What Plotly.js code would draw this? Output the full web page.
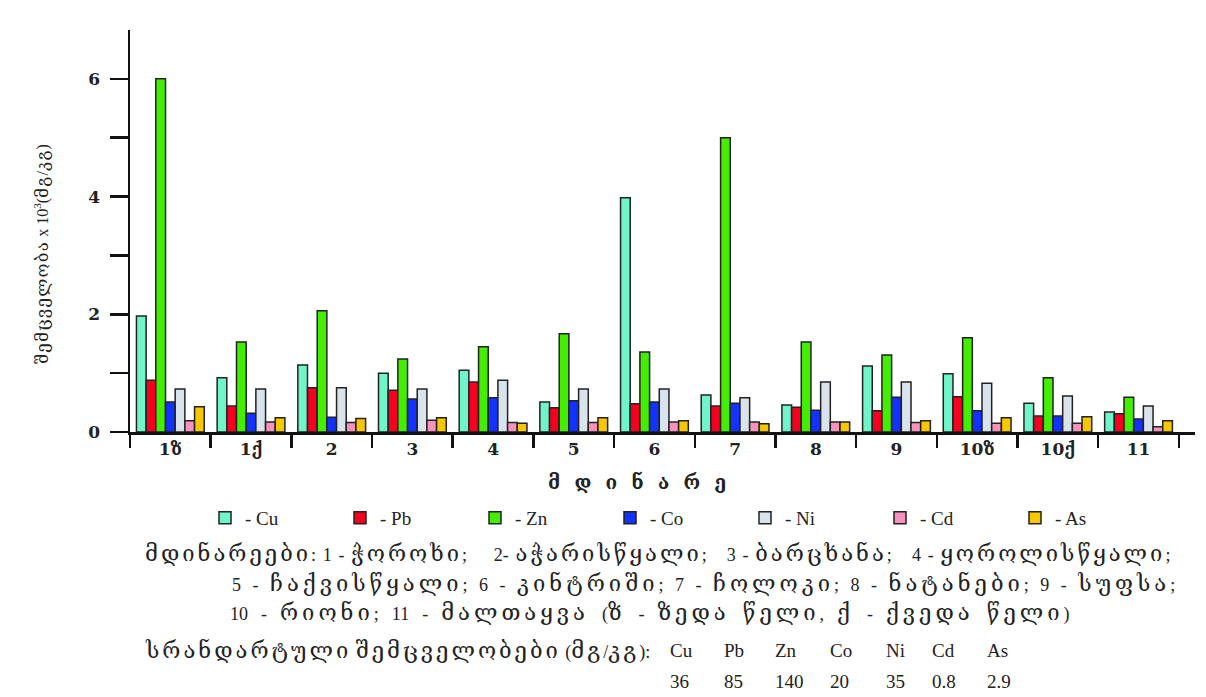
<!DOCTYPE html>
<html>
<head>
<meta charset="utf-8">
<script src="https://cdn.plot.ly/plotly-3.0.1.min.js"></script>
<style>html,body{margin:0;padding:0;background:#fff;}#chart{width:1206px;height:697px;}</style>
</head>
<body>
<div id="chart"></div>
<script>
// ---- data ----
const categories = ['1ზ','1ქ','2','3','4','5','6','7','8','9','10ზ','10ქ','11'];
const Cu = [1.97,0.92,1.14,1.00,1.05,0.51,3.98,0.63,0.46,1.12,0.99,0.49,0.34];
const Pb = [0.88,0.44,0.75,0.71,0.85,0.41,0.48,0.44,0.42,0.36,0.60,0.27,0.31];
const Zn = [6.00,1.53,2.06,1.24,1.45,1.67,1.36,5.00,1.53,1.31,1.60,0.92,0.59];
const Co = [0.51,0.32,0.25,0.56,0.58,0.53,0.51,0.49,0.37,0.59,0.36,0.27,0.22];
const Ni = [0.73,0.73,0.75,0.73,0.88,0.73,0.73,0.58,0.85,0.85,0.83,0.61,0.44];
const Cd = [0.19,0.17,0.16,0.20,0.16,0.16,0.17,0.17,0.17,0.16,0.15,0.15,0.09];
const As = [0.43,0.24,0.23,0.24,0.15,0.24,0.19,0.14,0.17,0.19,0.24,0.26,0.19];
const seriesNames = ['Cu','Pb','Zn','Co','Ni','Cd','As'];
const seriesValues = [Cu,Pb,Zn,Co,Ni,Cd,As];
const yTickVals = [0,2,4,6];
const yTickText = ['0','2','4','6'];
const yMinorVals = [1,3,5];
const riverLines = [
  'მდინარეები: 1 - ჭოროხი;    2- აჭარისწყალი;   3 - ბარცხანა;   4 - ყოროლისწყალი;',
  '5 - ჩაქვისწყალი; 6 - კინტრიში; 7 - ჩოლოკი; 8 - ნატანები; 9 - სუფსა;',
  '10 - რიონი; 11 - მალთაყვა (ზ - ზედა წელი, ქ - ქვედა წელი)'
];
const standardLabel = 'სრანდარტული შემცველობები (მგ/კგ):';
const standardElements = ['Cu','Pb','Zn','Co','Ni','Cd','As'];
const standardValues = ['36','85','140','20','35','0.8','2.9'];
const yTitle = 'შემცველობა x 10<sup>3</sup>(მგ/კგ)';
const xTitle = 'მ დ ი ნ ა რ ე';

// ---- styles ----
const colors = ['#6ff5c9','#f5001f','#44ee00','#1232ff','#d9e3ec','#f592bd','#f7c700'];
const serif = '"DejaVu Serif", "Liberation Serif", serif';
const textFont = '"Liberation Serif", "DejaVu Serif", serif';

// Georgian runs get a larger, wider face (the original uses a wide Georgian font);
// spaces kept as NBSP, optionally widened.
function geo(t, size, ls, spaceExtra) {
  const sp = spaceExtra ? '<span style="letter-spacing:' + spaceExtra + 'px">\u00a0</span>' : '\u00a0';
  return t.split(/([\u10A0-\u10FF]+)/).map((s, i) => i % 2
    ? '<span style="font-family:DejaVu Serif;font-size:' + size + 'px;letter-spacing:' + ls + 'px">' + s + '</span>'
    : s.replace(/ /g, sp)).join('');
}

// plot area in px: x 130..1195, y 30..432
const L = 130, R = 1195, T = 30, B = 432;
const px = v => (v - L) / (R - L);
const py = v => (B - v) / (B - T);

const traces = seriesNames.map((n, i) => ({
  type: 'bar',
  name: '- ' + n,
  x: categories,
  y: seriesValues[i],
  marker: {color: colors[i], line: {color: '#222', width: 1.5}},
  hoverinfo: 'x+y+name'
}));

const annotations = [];
const riverX = [143, 230, 228];
const riverY = [553, 583, 612];
const riverLs = [3, 4, 4];
const riverSp = [2.2, 7, 8.5];
riverLines.forEach((t, i) => annotations.push({
  xref: 'paper', yref: 'paper', x: px(riverX[i]), y: py(riverY[i]),
  xanchor: 'left', yanchor: 'middle', showarrow: false, text: geo(t, 22, riverLs[i], riverSp[i]),
  font: {family: textFont, size: 18, color: '#222'}
}));
annotations.push({
  xref: 'paper', yref: 'paper', x: px(143), y: py(650),
  xanchor: 'left', yanchor: 'middle', showarrow: false, text: geo(standardLabel, 22, 3, 0),
  font: {family: textFont, size: 18, color: '#222'}
});
const colX = [668, 722, 773, 828, 884, 930, 985];
standardElements.forEach((t, i) => {
  annotations.push({xref: 'paper', yref: 'paper', x: px(colX[i]), y: py(650), xanchor: 'left', yanchor: 'middle',
    showarrow: false, text: t, font: {family: textFont, size: 19, color: '#222'}});
  annotations.push({xref: 'paper', yref: 'paper', x: px(colX[i]), y: py(681), xanchor: 'left', yanchor: 'middle',
    showarrow: false, text: standardValues[i], font: {family: textFont, size: 19, color: '#222'}});
});
// y-axis title (rotated annotation)
annotations.push({
  xref: 'paper', yref: 'paper', x: px(41), y: py(254), xanchor: 'center', yanchor: 'middle',
  textangle: -90, showarrow: false, text: geo(yTitle, 17, 1.2, 0),
  font: {family: textFont, size: 16, color: '#222'}
});
// x-axis title
annotations.push({
  xref: 'paper', yref: 'paper', x: px(641), y: py(482), xanchor: 'center', yanchor: 'middle',
  showarrow: false, text: geo(xTitle, 19, 8, 0),
  font: {family: serif, size: 18, color: '#222', weight: 'bold'}
});

const layout = {
  width: 1206, height: 697,
  paper_bgcolor: '#fff', plot_bgcolor: '#fff',
  margin: {l: L, r: 1206 - R, t: T, b: 697 - B, pad: 0},
  barmode: 'group', bargap: 0.16, bargroupgap: 0,
  showlegend: true,
  legend: {
    orientation: 'h', x: px(205), xanchor: 'left', y: py(518), yanchor: 'middle',
    font: {family: textFont, size: 19, color: '#222'},
    entrywidth: 90, entrywidthmode: 'pixels', traceorder: 'normal',
    bgcolor: 'rgba(0,0,0,0)'
  },
  xaxis: {
    type: 'category', range: [-0.5, 12.7],
    showline: true, linecolor: '#111', linewidth: 2.5,
    ticks: 'outside', tickson: 'boundaries', ticklen: 13, tickwidth: 2.5, tickcolor: '#111',
    tickfont: {family: serif, size: 17, color: '#222', weight: 'bold'},
    showgrid: false, zeroline: false, fixedrange: true
  },
  yaxis: {
    range: [0, 6.83],
    showline: true, linecolor: '#111', linewidth: 2.5,
    ticks: 'outside', ticklen: 18, tickwidth: 2.5, tickcolor: '#111',
    tickmode: 'array', tickvals: yTickVals, ticktext: yTickText, ticklabelstandoff: 6,
    minor: {tickmode: 'array', tickvals: yMinorVals, ticks: 'outside', ticklen: 18, tickwidth: 2.5, tickcolor: '#111', showgrid: false},
    tickfont: {family: serif, size: 17, color: '#222', weight: 'bold'},
    showgrid: false, zeroline: false, fixedrange: true
  },
  annotations: annotations
};

Plotly.newPlot('chart', traces, layout, {displayModeBar: false, staticPlot: true});
</script>
</body>
</html>
